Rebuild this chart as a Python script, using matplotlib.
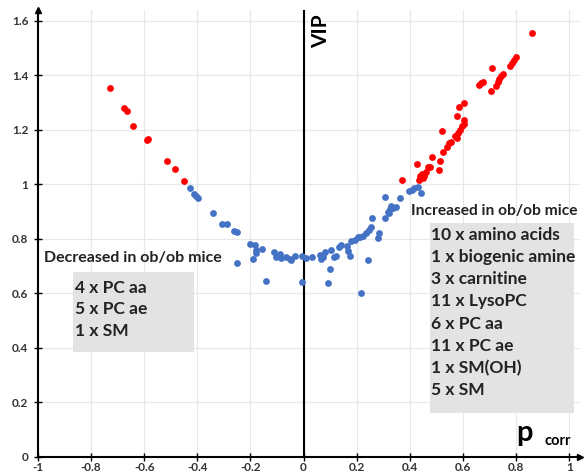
import matplotlib
matplotlib.use("Agg")
import matplotlib.pyplot as plt

# p(corr) and VIP values
red_left_x = [-0.729, -0.677, -0.663, -0.643, -0.591, -0.586, -0.514, -0.486, -0.451]
red_left_y = [1.355, 1.280, 1.271, 1.215, 1.163, 1.166, 1.084, 1.056, 1.014]

red_right_x = [0.371, 0.427, 0.434, 0.439, 0.446, 0.455, 0.461, 0.451, 0.467, 0.477,
               0.484, 0.509, 0.514, 0.526, 0.519, 0.539, 0.546, 0.555, 0.568, 0.580,
               0.578, 0.589, 0.597, 0.602, 0.605, 0.578, 0.583, 0.603, 0.659, 0.668,
               0.674, 0.706, 0.708, 0.724, 0.731, 0.737, 0.743, 0.752, 0.777, 0.784,
               0.793, 0.800, 0.860]
red_right_y = [1.017, 1.075, 1.017, 1.029, 1.039, 1.031, 1.047, 1.023, 1.063, 1.065,
               1.100, 1.053, 1.087, 1.117, 1.196, 1.137, 1.151, 1.157, 1.178, 1.190,
               1.169, 1.200, 1.215, 1.222, 1.237, 1.251, 1.283, 1.300, 1.365, 1.371,
               1.377, 1.341, 1.426, 1.361, 1.377, 1.386, 1.396, 1.405, 1.435, 1.447,
               1.457, 1.467, 1.555]

blue_x = [-0.429, -0.414, -0.406, -0.397, -0.340, -0.308, -0.288, -0.262, -0.252, -0.249,
          -0.203, -0.184, -0.178, -0.180, -0.190, -0.155, -0.143, -0.112, -0.103, -0.090,
          -0.084, -0.068, -0.053, -0.046, -0.034, -0.005, 0.010, -0.005, 0.033, 0.063,
          0.066, 0.079, 0.073, 0.098, 0.092, 0.104, 0.113, 0.123, 0.135, 0.142,
          0.164, 0.167, 0.173, 0.179, 0.192, 0.204, 0.211, 0.223, 0.236, 0.246,
          0.254, 0.258, 0.242, 0.217, 0.280, 0.283, 0.305, 0.305, 0.317, 0.321,
          0.326, 0.330, 0.336, 0.346, 0.361, 0.398, 0.409, 0.417, 0.430, 0.442]
blue_y = [0.987, 0.964, 0.958, 0.950, 0.895, 0.853, 0.853, 0.830, 0.824, 0.711,
          0.780, 0.778, 0.760, 0.750, 0.725, 0.763, 0.645, 0.751, 0.735, 0.745,
          0.731, 0.735, 0.728, 0.723, 0.739, 0.738, 0.731, 0.642, 0.735, 0.742,
          0.725, 0.753, 0.735, 0.690, 0.637, 0.760, 0.735, 0.738, 0.770, 0.778,
          0.775, 0.757, 0.739, 0.794, 0.796, 0.808, 0.806, 0.811, 0.823, 0.833,
          0.845, 0.878, 0.723, 0.601, 0.803, 0.821, 0.955, 0.876, 0.900, 0.894,
          0.909, 0.921, 0.913, 0.916, 0.949, 0.974, 0.980, 0.986, 0.992, 0.968]

decreased_title = "Decreased in ob/ob mice"
decreased_items = ["4 x PC aa", "5 x PC ae", "1 x SM"]
increased_title = "Increased in ob/ob mice"
increased_items = ["10 x amino acids", "1 x biogenic amine", "3 x carnitine",
                   "11 x LysoPC", "6 x PC aa", "11 x PC ae", "1 x SM(OH)", "5 x SM"]

x_ticks = [-1, -0.8, -0.6, -0.4, -0.2, 0, 0.2, 0.4, 0.6, 0.8, 1]
y_ticks = [0, 0.2, 0.4, 0.6, 0.8, 1, 1.2, 1.4, 1.6]

plt.rcParams['font.family'] = ['Lato', 'DejaVu Sans']
text_color = '#222222'

fig = plt.figure(figsize=(5.84, 4.74), dpi=100)
ax = fig.add_axes([0.065, 0.036, 0.928, 0.943])

ax.set_xlim(-1, 1.04)
ax.set_ylim(0, 1.64)

ax.set_xticks(x_ticks)
ax.set_yticks(y_ticks)
ax.set_xticklabels([f"{t:g}" for t in x_ticks], fontweight='bold', fontsize=8.5, color='#333333')
ax.set_yticklabels([f"{t:g}" for t in y_ticks], fontweight='bold', fontsize=8.5, color='#333333')
ax.tick_params(direction='inout', length=6, width=1, color='black')
ax.tick_params(axis='x', pad=1)
ax.tick_params(axis='y', pad=4)

ax.grid(True, color='#e8e8e8', linewidth=0.9, zorder=0)
ax.set_axisbelow(True)

for side in ['top', 'right']:
    ax.spines[side].set_visible(False)
for side in ['left', 'bottom']:
    ax.spines[side].set_linewidth(1.5)
    ax.spines[side].set_color('black')

# arrowheads at the axis ends
ax.plot(1, 0, '>k', markersize=5, transform=ax.transAxes, clip_on=False)
ax.plot(0, 1, '^k', markersize=5, transform=ax.transAxes, clip_on=False)

ax.axvline(0, color='black', linewidth=1.5, zorder=2)

ax.scatter(blue_x, blue_y, s=24, color='#4472c4', zorder=3, linewidths=0)
ax.scatter(red_left_x, red_left_y, s=24, color='#ff0000', zorder=3, linewidths=0)
ax.scatter(red_right_x, red_right_y, s=24, color='#ff0000', zorder=3, linewidths=0)

ax.text(0.066, 1.625, "VIP", rotation=90, fontsize=15, fontweight='bold',
        color='black', ha='center', va='top')
ax.text(0.80, 0.06, "p", fontsize=21, fontweight='bold', color='black', ha='left', va='baseline')
ax.text(0.905, 0.045, "corr", fontsize=10.5, fontweight='bold', color='black', ha='left', va='baseline')

# decreased box
ax.add_patch(plt.Rectangle((-0.868, 0.385), 0.455, 0.294, facecolor='#e3e3e3',
                           edgecolor='none', zorder=2))
ax.text(-0.978, 0.73, decreased_title, fontsize=11.5, fontweight='bold',
        color=text_color, ha='left', va='center', zorder=4)
for i, item in enumerate(decreased_items):
    ax.text(-0.862, 0.621 - i * 0.079, item, fontsize=12.5, fontweight='bold',
            color=text_color, ha='left', va='center', zorder=4)

# increased box
ax.add_patch(plt.Rectangle((0.474, 0.161), 0.545, 0.698, facecolor='#e3e3e3',
                           edgecolor='none', zorder=2))
ax.text(0.405, 0.903, increased_title, fontsize=11.2, fontweight='bold',
        color=text_color, ha='left', va='center', zorder=4)
for i, item in enumerate(increased_items):
    ax.text(0.478, 0.815 - i * 0.0815, item, fontsize=12.5, fontweight='bold',
            color=text_color, ha='left', va='center', zorder=4)

fig.savefig("out.png", dpi=100)
